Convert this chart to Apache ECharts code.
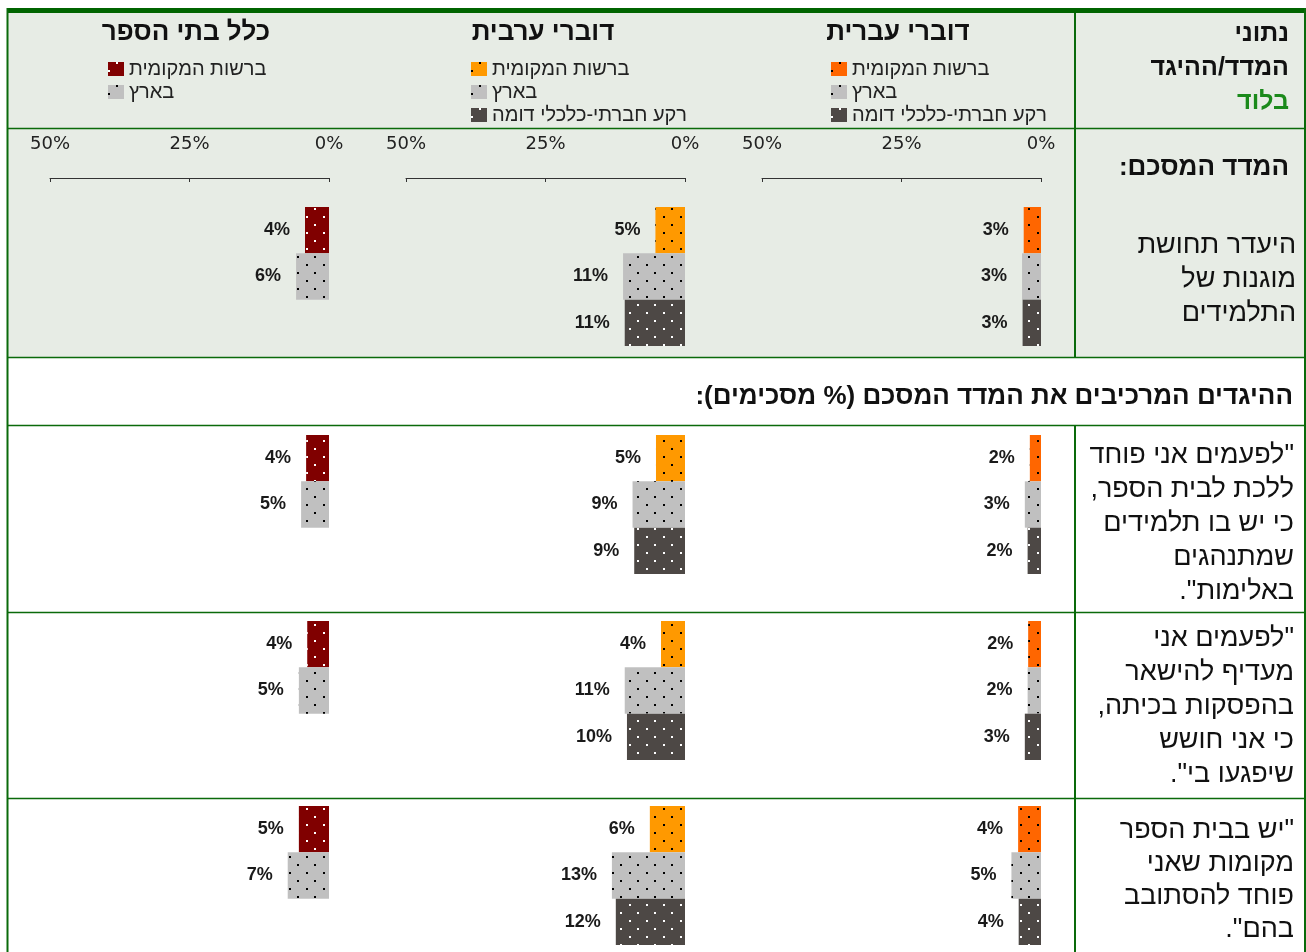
<!DOCTYPE html>
<html lang="he">
<head>
<meta charset="utf-8">
<script src="https://cdn.jsdelivr.net/npm/echarts@6/dist/echarts.min.js"></script>
<style>
  html, body { margin: 0; padding: 0; background: #fff; }
  #main { width: 1306px; height: 952px; direction: rtl; }
</style>
</head>
<body>
<div id="main"></div>
<script>
// נתונים - אחוז המסכימים (שורה 0 = המדד המסכם, 1-3 = ההיגדים)
var groupNames = ['ברשות המקומית', 'בארץ', 'רקע חברתי-כלכלי דומה'];
var columnTitles = ['דוברי עברית', 'דוברי ערבית', 'כלל בתי הספר'];
var axisValues = [0, 25, 50];

var hebrewLocal   = [3.1, 2.0, 2.3, 4.1];
var hebrewCountry = [3.4, 2.9, 2.4, 5.3];
var hebrewSimilar = [3.3, 2.4, 2.9, 4.0];

var arabicLocal   = [5.3, 5.2, 4.3, 6.3];
var arabicCountry = [11.1, 9.4, 10.8, 13.1];
var arabicSimilar = [10.8, 9.1, 10.4, 12.4];

var allLocal   = [4.3, 4.1, 3.9, 5.4];
var allCountry = [5.9, 5.0, 5.4, 7.4];

var rowTexts = [
  'היעדר תחושת\nמוגנות של\nהתלמידים',
  '"לפעמים אני פוחד\nללכת לבית הספר,\nכי יש בו תלמידים\nשמתנהגים\nבאלימות".',
  '"לפעמים אני\nמעדיף להישאר\nבהפסקות בכיתה,\nכי אני חושש\nשיפגעו בי".',
  '"יש בבית הספר\nמקומות שאני\nפוחד להסתובב\nבהם".'
];

var chart = echarts.init(document.getElementById('main'));

var green = '#0a6a0a';
var hebFont = '"Liberation Sans", Arial, sans-serif';

// עמודות: עברית, ערבית, כלל
var columns = [
  { key: 'heb', values: [hebrewLocal, hebrewCountry, hebrewSimilar],
    colors: ['#ff6600', '#c0c0c0', '#4d4845'], dots: ['#000', '#000', '#fff'],
    left: 762, legendLeft: 831, titleX: 898 },
  { key: 'arb', values: [arabicLocal, arabicCountry, arabicSimilar],
    colors: ['#ff9900', '#c0c0c0', '#4d4845'], dots: ['#000', '#000', '#fff'],
    left: 406, legendLeft: 471, titleX: 543 },
  { key: 'all', values: [allLocal, allCountry],
    colors: ['#800000', '#c0c0c0'], dots: ['#fff', '#000'],
    left: 50, legendLeft: 108, titleX: 186 }
];
var colWidth = 279;
var rowTop = [207, 435, 621, 806];
var rowHeight = 139;

function dots(color) {
  return {
    symbol: 'rect',
    symbolSize: 1,
    color: color,
    dashArrayX: [[2, 15], [0, 8, 2, 7]],
    dashArrayY: [2, 6]
  };
}

var grid = [], xAxis = [], yAxis = [], series = [], legend = [];
var nameMap = {};

columns.forEach(function (col, c) {
  rowTop.forEach(function (top, r) {
    var idx = grid.length;
    grid.push({ left: col.left, top: top, width: colWidth, height: rowHeight });
    xAxis.push({
      gridIndex: idx,
      type: 'value',
      min: axisValues[0],
      max: axisValues[2],
      interval: axisValues[1],
      inverse: true,
      show: r === 0,
      position: 'top',
      offset: 29,
      axisLine: { show: true, lineStyle: { color: '#333', width: 1 } },
      axisTick: { show: true, inside: true, length: 4, lineStyle: { color: '#333' } },
      axisLabel: { show: true, formatter: '{value}%', margin: 25, color: '#222', fontSize: 18, fontFamily: '"DejaVu Sans", sans-serif' },
      splitLine: { show: false }
    });
    yAxis.push({
      gridIndex: idx,
      type: 'category',
      data: [0, 1, 2],
      inverse: true,
      show: false
    });
    col.values.forEach(function (arr, g) {
      var name = col.key + '-' + g;
      nameMap[name] = groupNames[g];
      series.push({
        type: 'bar',
        name: name,
        xAxisIndex: idx,
        yAxisIndex: idx,
        data: [[arr[r], g]],
        barWidth: '100%',
        barGap: '-100%',
        itemStyle: { color: col.colors[g], decal: dots(col.dots[g]) },
        label: {
          show: true,
          position: 'left',
          distance: 15,
          formatter: function (p) { return Math.round(p.value[0]) + '%'; },
          color: '#1a1a1a',
          fontWeight: 'bold',
          fontSize: 18,
          fontFamily: '"Liberation Sans", Arial, sans-serif'
        },
        silent: true
      });
    });
  });
  legend.push({
    orient: 'vertical',
    left: col.legendLeft,
    top: 59,
    icon: 'rect',
    itemWidth: 16,
    itemHeight: 14,
    itemGap: 3,
    padding: 0,
    selectedMode: false,
    data: col.values.map(function (a, g) { return col.key + '-' + g; }),
    formatter: function (n) { return nameMap[n]; },
    textStyle: { color: '#222', fontSize: 20, lineHeight: 20, fontFamily: hebFont }
  });
});

// מסגרת, רקעים וטקסטים
var graphics = [
  { type: 'rect', z: -10, shape: { x: 7, y: 13, width: 1298, height: 344 }, style: { fill: '#e7ece5' } },
  { type: 'rect', z: 50, shape: { x: 7, y: 8, width: 1299, height: 5 }, style: { fill: '#006400' } }
];
function line(x1, y1, x2, y2, w) {
  graphics.push({ type: 'line', z: 50, shape: { x1: x1, y1: y1, x2: x2, y2: y2 }, style: { stroke: green, lineWidth: w } });
}
line(7.5, 8, 7.5, 952, 2);
line(1305, 8, 1305, 952, 2);
line(1075, 13, 1075, 357, 2);
line(1075, 425, 1075, 952, 2);
[128.5, 357.5, 425.5, 612.5, 798.5].forEach(function (y) { line(7, y, 1305, y, 1.5); });

function text(str, x, y, size, bold, color, lh, align) {
  graphics.push({
    type: 'text', z: 60,
    style: {
      text: str, x: x, y: y,
      textAlign: align || 'right', textVerticalAlign: 'top',
      font: (bold ? 'bold ' : '') + size + 'px ' + hebFont,
      fill: color || '#111', lineHeight: lh || size
    }
  });
}
columns.forEach(function (col, c) {
  text(columnTitles[c], col.titleX, 19, 26, true, '#111', 28, 'center');
});
text('נתוני\nהמדד/ההיגד', 1289, 17, 25, true, '#111', 34);
text('בלוד', 1289, 85, 25, true, '#1b8a1b', 34);
text('המדד המסכם:', 1289, 151, 26, true, '#111', 34);
text(rowTexts[0], 1296, 229, 27, false, '#111', 34);
text('ההיגדים המרכיבים את המדד המסכם (% מסכימים):', 1293, 384, 26, true, '#111', 26);
text(rowTexts[1], 1294, 439, 27, false, '#111', 34);
text(rowTexts[2], 1294, 622, 27, false, '#111', 34);
text(rowTexts[3], 1294, 814, 27, false, '#111', 33);

var option = {
  backgroundColor: '#fff',
  animation: false,
  grid: grid,
  xAxis: xAxis,
  yAxis: yAxis,
  legend: legend,
  series: series,
  graphic: graphics
};

chart.setOption(option);
</script>
</body>
</html>
